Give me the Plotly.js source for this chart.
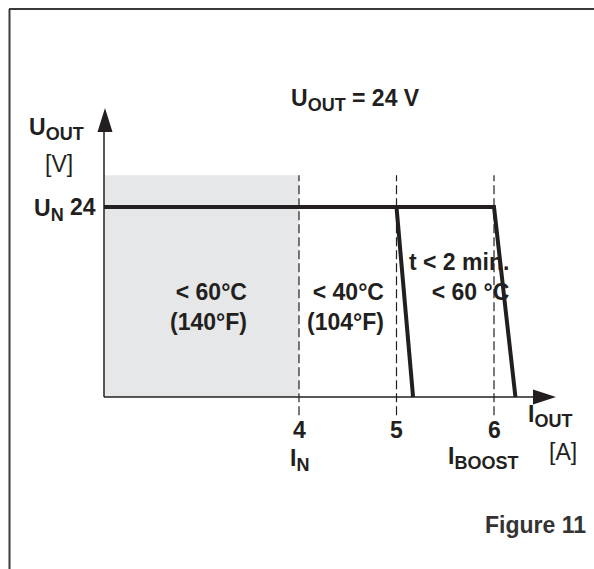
<!DOCTYPE html>
<html>
<head>
<meta charset="utf-8">
<script src="https://cdn.plot.ly/plotly-3.0.1.min.js"></script>
<style>html,body{margin:0;padding:0;background:#fff;}#chart{width:594px;height:569px;}</style>
</head>
<body>
<div id="chart"></div>
<script>
// ---- data ----
const currentTicks = [4, 5, 6];
const tickLabels = ['4', '5', '6'];
const ratedVoltage = 24;
const shadeCurrent = [2, 4];
const shadeVoltage = 28;
const boostCurrent = [2, 6, 6.22];
const boostVoltage = [24, 24, 0];
const normCurrent = [5, 5.17];
const normVoltage = [24, 0];
const dashRange = [-2.3, 28];

// ---- geometry helpers (pixel <-> data) ----
const W = 594, H = 569;
const xPerUnit = 97.5, yPerUnit = 190 / 24;
const x0 = 4 - 299 / xPerUnit;
const yZeroPx = 397;
const xr = [x0, x0 + W / xPerUnit];
const yr = [-(H - yZeroPx) / yPerUnit, yZeroPx / yPerUnit];
const px = p => p / W;
const py = p => 1 - p / H;

const ink = '#231f20';
const FONT = 'Liberation Sans, Arial, sans-serif';
const FS = 23;
const SUB = 18;
const sub = s => '<sub><span style="font-size:' + SUB + 'px">' + s + '</span></sub>';

const traces = [];
traces.push({
  x: [shadeCurrent[0], shadeCurrent[1], shadeCurrent[1], shadeCurrent[0], shadeCurrent[0]],
  y: [0, 0, shadeVoltage, shadeVoltage, 0],
  mode: 'lines', fill: 'toself', fillcolor: '#e6e7e8',
  line: {width: 0}, hoverinfo: 'skip'
});
currentTicks.forEach(t => traces.push({
  x: [t, t], y: dashRange, mode: 'lines',
  line: {color: ink, width: 1.2, dash: '9px,4px'}, hoverinfo: 'skip'
}));
traces.push({x: boostCurrent, y: boostVoltage, mode: 'lines', line: {color: ink, width: 4}});
traces.push({x: normCurrent, y: normVoltage, mode: 'lines', line: {color: ink, width: 4}});

const originX = shadeCurrent[0];
const shapes = [
  {type: 'line', xref: 'x', yref: 'y', x0: originX, x1: originX + (533 - 104) / xPerUnit, y0: 0, y1: 0, line: {color: ink, width: 1.5}},
  {type: 'line', xref: 'x', yref: 'y', x0: originX, x1: originX, y0: 0, y1: (397 - 130) / yPerUnit, line: {color: ink, width: 1.5}},
  {type: 'path', xref: 'paper', yref: 'paper',
   path: `M ${px(97.5)} ${py(132)} L ${px(105)} ${py(108)} L ${px(112.5)} ${py(132)} Z`,
   fillcolor: ink, line: {width: 0}},
  {type: 'path', xref: 'paper', yref: 'paper',
   path: `M ${px(533)} ${py(389.5)} L ${px(556)} ${py(397)} L ${px(533)} ${py(404.5)} Z`,
   fillcolor: ink, line: {width: 0}},
  {type: 'line', xref: 'paper', yref: 'paper', x0: px(9), x1: px(594), y0: py(9), y1: py(9), line: {color: '#3a3a3a', width: 2}},
  {type: 'line', xref: 'paper', yref: 'paper', x0: px(9.5), x1: px(9.5), y0: py(9), y1: py(569), line: {color: '#3a3a3a', width: 2}}
];

function ann(text, x, y, xanchor, opts) {
  return Object.assign({
    text: text, xref: 'paper', yref: 'paper', x: px(x), y: py(y),
    xanchor: xanchor, yanchor: 'middle', showarrow: false,
    font: {family: FONT, size: FS, color: ink}, align: xanchor === 'right' ? 'right' : 'left'
  }, opts || {});
}
const c = FS * 0.35;
const annotations = [
  ann('<b>U' + sub('OUT') + ' = 24 V</b>', 289, 108 - c, 'left'),
  ann('<b>U' + sub('OUT') + '</b>', 27, 137 - c, 'left'),
  ann('[V]', 59, 172 - c, 'center'),
  ann('<b>U' + sub('N') + '</b>', 32, 218 - c, 'left'),
  ann('<b>' + ratedVoltage + '</b>', 98, 215 - c, 'right'),
  ann('<b>&lt; 60°C<br>(140°F)</b>', 249, 315.5 - c, 'right'),
  ann('<b>&lt; 40°C<br>(104°F)</b>', 386, 315.5 - c, 'right'),
  ann('<b>t &lt; 2 min.<br>&lt; 60 °C</b>', 511, 285.5 - c, 'right'),
  ann('<b>I' + sub('N') + '</b>', 299, 468 - c, 'center'),
  ann('<b>I' + sub('OUT') + '</b>', 526, 424 - c, 'left'),
  ann('<b>I' + sub('BOOST') + '</b>', 446, 466 - c, 'left'),
  ann('[A]', 547, 460 - c, 'left'),
  ann('<b>Figure 11</b>', 483, 533 - c, 'left', {font: {family: FONT, size: FS, color: '#333333'}})
];
currentTicks.forEach((t, i) => annotations.push({
  text: '<b>' + tickLabels[i] + '</b>', xref: 'x', yref: 'paper', x: t, y: py(438 - c),
  xanchor: 'center', yanchor: 'middle', showarrow: false,
  font: {family: FONT, size: FS, color: ink}
}));

Plotly.newPlot('chart', traces, {
  width: W, height: H,
  margin: {l: 0, r: 0, t: 0, b: 0},
  paper_bgcolor: '#ffffff', plot_bgcolor: '#ffffff',
  showlegend: false,
  xaxis: {range: xr, visible: false, fixedrange: true},
  yaxis: {range: yr, visible: false, fixedrange: true},
  shapes: shapes, annotations: annotations
}, {staticPlot: true});
</script>
</body>
</html>
